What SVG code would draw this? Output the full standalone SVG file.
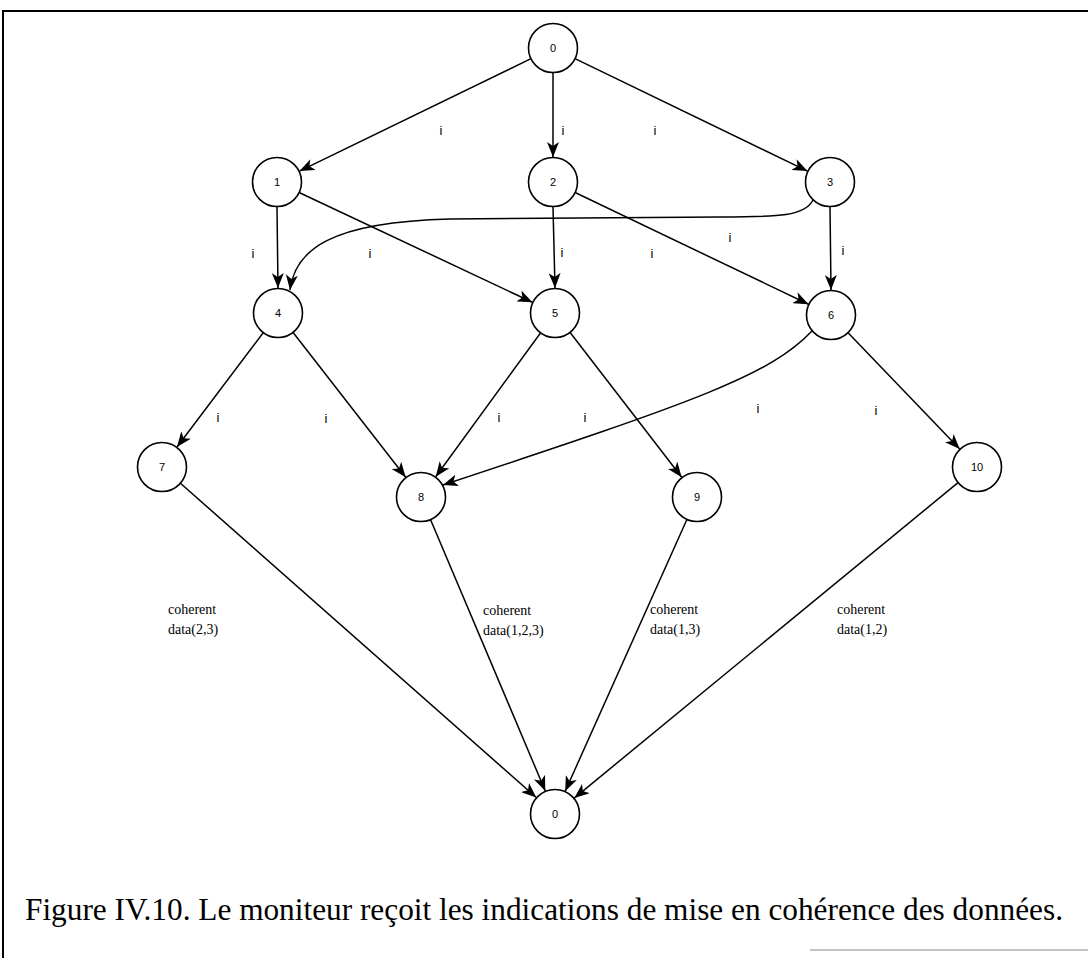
<svg xmlns="http://www.w3.org/2000/svg" width="1088" height="958" viewBox="0 0 1088 958">
<style>
.node circle{fill:#fff;stroke:#000;stroke-width:1.6}
.node text{font-family:"Liberation Sans",Arial,sans-serif;font-size:11px;text-anchor:middle;fill:#000}
.edge{fill:none;stroke:#000;stroke-width:1.5;marker-end:url(#ah)}
.lbl{font-family:"Liberation Sans",Arial,sans-serif;font-size:13px;text-anchor:middle;fill:#000}
.dl{font-family:"Liberation Serif","Times New Roman",serif;font-size:14px;fill:#000}
.cap{font-family:"Liberation Serif","Times New Roman",serif;font-size:31px;fill:#000}
</style>
<defs>
<marker id="ah" markerUnits="userSpaceOnUse" markerWidth="15" markerHeight="12" refX="15" refY="6" orient="auto">
<path d="M0,0 L15,6 L0,12 L4,6 z" fill="#000"/>
</marker>
</defs>
<rect width="1088" height="958" fill="#fff"/>
<g id="frame" stroke="#000" fill="none">
<line x1="2" y1="11" x2="1088" y2="11" stroke-width="2"/>
<line x1="3" y1="10" x2="3" y2="958" stroke-width="2"/>
<line x1="810" y1="950" x2="1088" y2="950" stroke-width="1" stroke="#888"/>
</g>
<g id="connectors">
<line class="edge" x1="530.5" y1="58.9" x2="299.5" y2="171.1"/>
<line class="edge" x1="553" y1="73" x2="553" y2="157"/>
<line class="edge" x1="575.5" y1="58.9" x2="807.5" y2="171.1"/>
<line class="edge" x1="277" y1="207" x2="278" y2="288"/>
<line class="edge" x1="299.6" y1="192.7" x2="532.4" y2="302.3"/>
<line class="edge" x1="553" y1="207" x2="555" y2="288"/>
<line class="edge" x1="575.6" y1="192.8" x2="808.5" y2="304.2"/>
<line class="edge" x1="830" y1="207" x2="831" y2="290"/>
<path class="edge" d="M813 200 C805 216 780 217 720 217 L450 219 C330 222 295 250 290 290"/>
<line class="edge" x1="263" y1="333" x2="177" y2="447"/>
<line class="edge" x1="293.3" y1="332.7" x2="405.7" y2="477.3"/>
<line class="edge" x1="540.3" y1="333.2" x2="435.7" y2="476.8"/>
<line class="edge" x1="570.3" y1="332.8" x2="681.7" y2="477.2"/>
<path class="edge" d="M812 331 C770 375 700 400 443 485"/>
<line class="edge" x1="848.3" y1="333" x2="959.7" y2="449"/>
<line class="edge" x1="180.7" y1="483.5" x2="536.3" y2="797.5"/>
<line class="edge" x1="430.7" y1="520" x2="545.3" y2="791"/>
<line class="edge" x1="686.8" y1="519.8" x2="565.2" y2="791.2"/>
<line class="edge" x1="957.7" y1="482.9" x2="574.3" y2="798.1"/>
<text class="lbl" x="441" y="135">i</text>
<text class="lbl" x="563" y="135">i</text>
<text class="lbl" x="655" y="135">i</text>
<text class="lbl" x="253" y="258">i</text>
<text class="lbl" x="370" y="258">i</text>
<text class="lbl" x="562" y="257">i</text>
<text class="lbl" x="652" y="258">i</text>
<text class="lbl" x="730" y="242">i</text>
<text class="lbl" x="843" y="255">i</text>
<text class="lbl" x="218" y="422">i</text>
<text class="lbl" x="326" y="423">i</text>
<text class="lbl" x="499" y="422">i</text>
<text class="lbl" x="585" y="422">i</text>
<text class="lbl" x="758" y="413">i</text>
<text class="lbl" x="876" y="415">i</text>
<text class="dl" x="168" y="614">coherent</text>
<text class="dl" x="168" y="634">data(2,3)</text>
<text class="dl" x="483" y="615">coherent</text>
<text class="dl" x="483" y="635">data(1,2,3)</text>
<text class="dl" x="650" y="614">coherent</text>
<text class="dl" x="650" y="634">data(1,3)</text>
<text class="dl" x="837" y="614">coherent</text>
<text class="dl" x="837" y="634">data(1,2)</text>
</g>
<g id="n0top" class="node"><circle cx="553" cy="48" r="24.5"/><text x="553" y="52">0</text></g>
<g id="n1" class="node"><circle cx="277" cy="182" r="24.5"/><text x="277" y="186">1</text></g>
<g id="n2" class="node"><circle cx="553" cy="182" r="24.5"/><text x="553" y="186">2</text></g>
<g id="n3" class="node"><circle cx="830" cy="182" r="24.5"/><text x="830" y="186">3</text></g>
<g id="n4" class="node"><circle cx="278" cy="313" r="24.5"/><text x="278" y="317">4</text></g>
<g id="n5" class="node"><circle cx="555" cy="313" r="24.5"/><text x="555" y="317">5</text></g>
<g id="n6" class="node"><circle cx="831" cy="315" r="24.5"/><text x="831" y="319">6</text></g>
<g id="n7" class="node"><circle cx="162" cy="467" r="24.5"/><text x="162" y="471">7</text></g>
<g id="n8" class="node"><circle cx="421" cy="497" r="24.5"/><text x="421" y="501">8</text></g>
<g id="n9" class="node"><circle cx="697" cy="497" r="24.5"/><text x="697" y="501">9</text></g>
<g id="n10" class="node"><circle cx="977" cy="467" r="24.5"/><text x="977" y="471">10</text></g>
<g id="n0bot" class="node"><circle cx="555" cy="814" r="24.5"/><text x="555" y="818">0</text></g>
<text class="cap" x="25" y="920" textLength="1038" lengthAdjust="spacingAndGlyphs">Figure IV.10. Le moniteur reçoit les indications de mise en cohérence des données.</text>
</svg>
